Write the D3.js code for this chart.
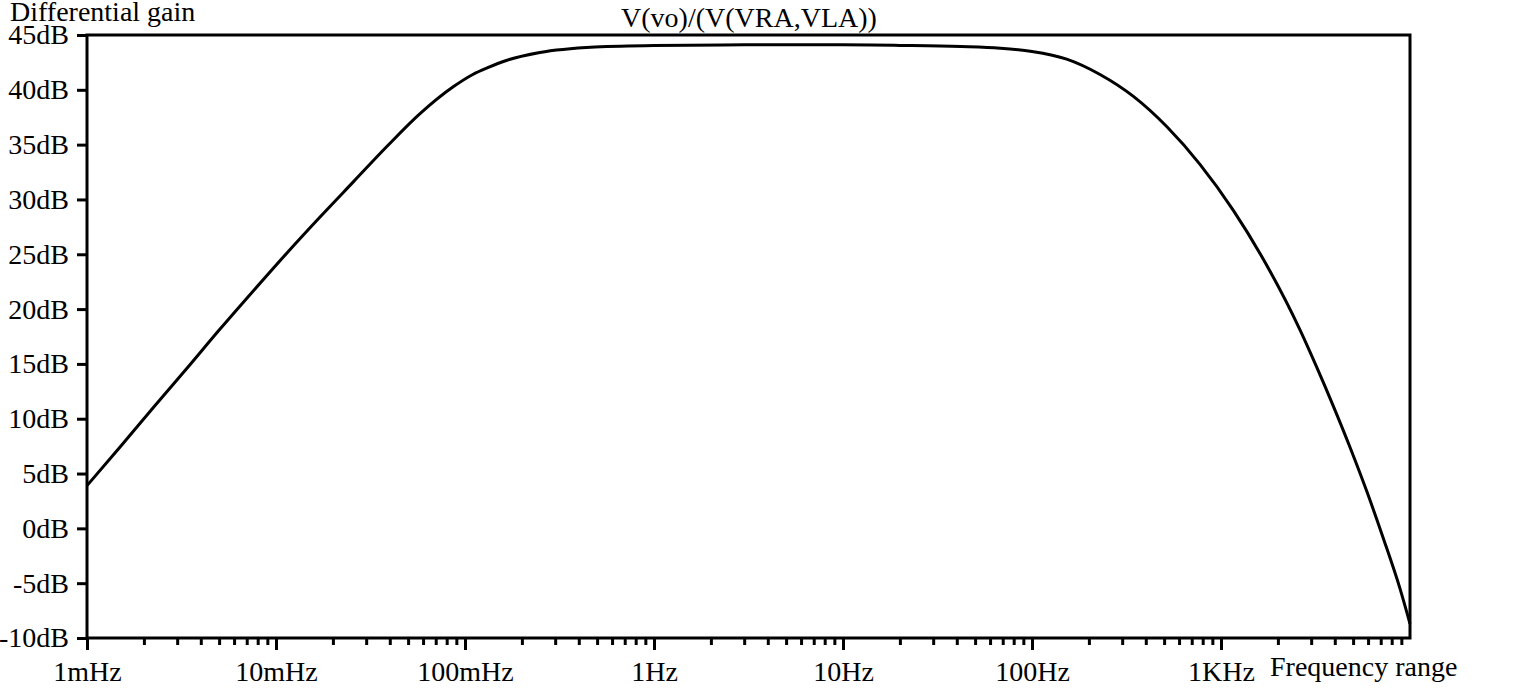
<!DOCTYPE html>
<html>
<head>
<meta charset="utf-8">
<script src="https://cdn.jsdelivr.net/npm/d3@7"></script>
<style>
  html, body { margin: 0; padding: 0; background: #fff; }
  svg { display: block; }
  text { font-family: "Liberation Serif", "Times New Roman", serif; fill: #000; }
</style>
</head>
<body>
<svg id="chart" width="1532" height="690"></svg>
<script>
// ---- data ----
const freqHz = [0.001, 0.0015, 0.00225, 0.00338, 0.00507, 0.00762, 0.0114, 0.0171, 0.0258, 0.0387,
  0.058, 0.087, 0.110, 0.131, 0.167, 0.249, 0.488, 1, 3, 10, 20, 42, 67.8, 100, 152.6, 229, 344, 516,
  774, 1162, 1745, 2618, 3209, 3929, 4814, 5900, 7222, 8853, 10000];
const gainDb = [3.9, 7.45, 11.05, 14.6, 18.2, 21.7, 25.1, 28.4, 31.65, 34.85,
  37.85, 40.3, 41.4, 42.0, 42.7, 43.4, 43.9, 44.05, 44.1, 44.1, 44.05, 43.95, 43.8, 43.5, 42.8, 41.4, 39.4, 36.65,
  33.2, 29.0, 24.0, 18.1, 14.7, 11.15, 7.4, 3.4, -0.9, -5.5, -8.7];
const yTickValues = [-10, -5, 0, 5, 10, 15, 20, 25, 30, 35, 40, 45];
const xMajorValues = [0.001, 0.01, 0.1, 1, 10, 100, 1000];
const xMajorLabels = ["1mHz", "10mHz", "100mHz", "1Hz", "10Hz", "100Hz", "1KHz"];
const titleText = "V(vo)/(V(VRA,VLA))";
const yAxisTitle = "Differential gain";
const xAxisTitle = "Frequency range";

// ---- layout ----
const mLeft = 87, mRight = 1410, mTop = 35, mBottom = 638;
const svg = d3.select("#chart");
const x = d3.scaleLog().domain([0.001, 10000]).range([mLeft, mRight]);
const y = d3.scaleLinear().domain([-10, 45]).range([mBottom, mTop]);
const FS = 28;

// minor ticks
const minorValues = [];
for (let e = -3; e <= 3; e++) {
  for (let m = 2; m <= 9; m++) minorValues.push(m * Math.pow(10, e));
}

// x axis (bottom)
const xMinor = d3.axisBottom(x).tickValues(minorValues).tickSize(7).tickFormat("");
svg.append("g").attr("transform", `translate(0,${mBottom})`).call(xMinor)
  .call(g => g.select(".domain").remove())
  .call(g => g.selectAll("line").attr("stroke", "#000").attr("stroke-width", 3));

const xMajor = d3.axisBottom(x).tickValues(xMajorValues).tickSize(12)
  .tickFormat((d, i) => xMajorLabels[i]).tickPadding(11);
svg.append("g").attr("transform", `translate(0,${mBottom})`).call(xMajor)
  .call(g => g.select(".domain").remove())
  .call(g => g.selectAll("line").attr("stroke", "#000").attr("stroke-width", 3))
  .call(g => g.selectAll("text").attr("font-size", FS).attr("font-family", "Liberation Serif").attr("fill", "#000"));

// y axis (left)
const yAxis = d3.axisLeft(y).tickValues(yTickValues).tickSize(10).tickPadding(8)
  .tickFormat(d => d + "dB");
svg.append("g").attr("transform", `translate(${mLeft},0)`).call(yAxis)
  .call(g => g.select(".domain").remove())
  .call(g => g.selectAll("line").attr("stroke", "#000").attr("stroke-width", 3))
  .call(g => g.selectAll("text").attr("font-size", FS).attr("font-family", "Liberation Serif").attr("fill", "#000"));

// frame
svg.append("rect")
  .attr("x", mLeft).attr("y", mTop)
  .attr("width", mRight - mLeft).attr("height", mBottom - mTop)
  .attr("fill", "none").attr("stroke", "#000").attr("stroke-width", 3);

// curve
const pts = freqHz.map((f, i) => [f, gainDb[i]]);
const line = d3.line().x(d => x(d[0])).y(d => y(d[1])).curve(d3.curveMonotoneX);
svg.append("path").datum(pts)
  .attr("d", line)
  .attr("fill", "none").attr("stroke", "#000").attr("stroke-width", 3)
  .attr("stroke-linejoin", "round");

// titles
svg.append("text").attr("x", (mLeft + mRight) / 2 + 0.5).attr("y", 27)
  .attr("text-anchor", "middle").attr("font-size", FS).text(titleText);
svg.append("text").attr("x", 10).attr("y", 21)
  .attr("font-size", FS).text(yAxisTitle);
svg.append("text").attr("x", 1270).attr("y", 676)
  .attr("font-size", FS).text(xAxisTitle);
</script>
</body>
</html>
